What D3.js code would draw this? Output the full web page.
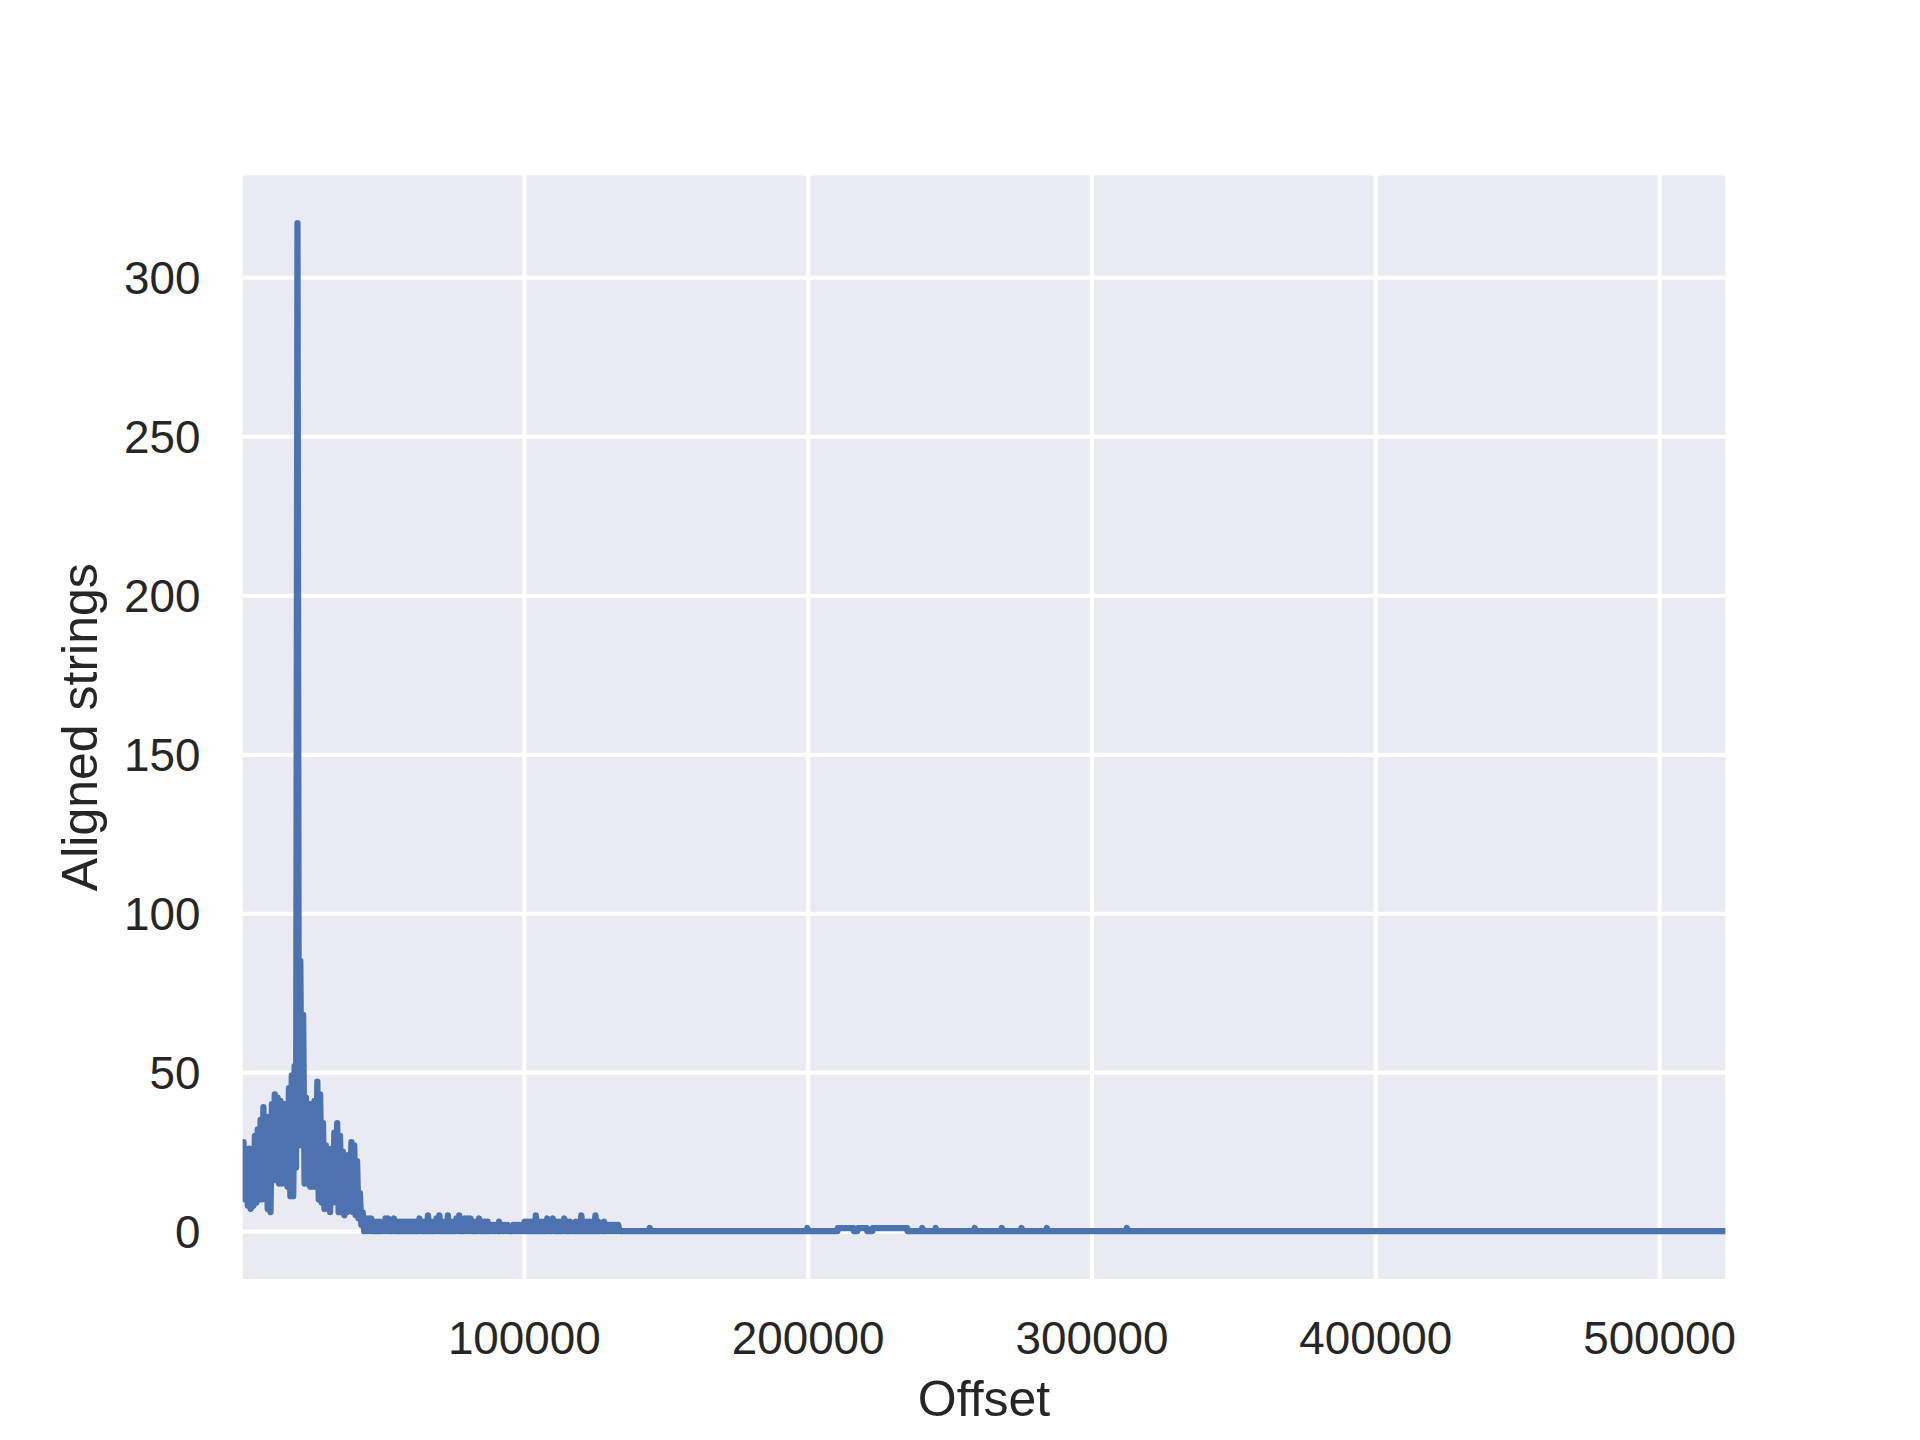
<!DOCTYPE html>
<html>
<head>
<meta charset="utf-8">
<script src="https://cdn.jsdelivr.net/npm/d3@7"></script>
<style>
  body { margin: 0; background: #fff; }
  svg { display: block; }
</style>
</head>
<body>
<div id="chart"></div>
<script>
// data

// dense head: every bin of 1000 offsets swings between a max and a min
const binSize = 1000;
const headMax = [28, 28, 25, 26, 25, 30, 32, 35, 39, 36,
                 33, 40, 43, 42, 41, 40, 40, 45, 49, 52,
                 317, 85, 68, 42, 40, 40, 41, 47, 43, 34,
                 27, 25, 26, 31, 34, 30, 25, 23, 24, 28,
                 27, 22, 12, 6, 4];
const headMin = [12, 10, 8, 7, 8, 9, 10, 10, 11, 7,
                 6, 16, 16, 15, 15, 15, 14, 11, 11, 20,
                 27, 27, 15, 15, 14, 14, 14, 10, 9, 7,
                 7, 6, 9, 10, 6, 6, 5, 6, 7, 6,
                 5, 4, 2, 0, 0];

// low tail: bins from offset 45000, swinging between 0 and these values
const tailStart = 45000;
const tailMax = [4, 4, 3, 3, 3, 2, 4, 4, 3, 4,
                 3, 3, 3, 3, 3, 3, 3, 3, 4, 3,
                 3, 5, 3, 3, 4, 5, 3, 3, 5, 3,
                 3, 4, 5, 3, 4, 4, 4, 3, 3, 4,
                 3, 3, 3, 2, 2, 2, 3, 2, 2, 2,
                 1, 2, 2, 2, 2, 3, 3, 3, 3, 5,
                 3, 3, 3, 4, 3, 4, 3, 3, 3, 4,
                 3, 3, 2, 3, 3, 5, 3, 3, 3, 3,
                 5, 3, 2, 3, 2, 2, 2, 2, 2];

// isolated single hits (value 1) and short runs of 1 further right
const sparseSpikes = [144400, 199900, 240400, 245150, 258900, 268430, 275370, 284300, 312500];
const sparseRuns = [[210500, 216300], [217500, 221000], [222800, 235200]];
const lastOffset = 524288;

const xTicks = [100000, 200000, 300000, 400000, 500000];
const yTicks = [0, 50, 100, 150, 200, 250, 300];

// layout (matplotlib-ish axes box in a 1920x1440 figure)
let width = 1920,
    height = 1440,
    margin = {left: 240, right: 192, top: 172.8, bottom: 158.4},
    innerW = width - margin.left - margin.right,
    innerH = height - margin.top - margin.bottom,
    tickFont = 45.8,
    labelFont = 50,
    textColor = "#262626",
    font = "'Liberation Sans', Arial, sans-serif";

// build the polyline
let points = [];
headMax.forEach(function(hi, i) {
    points.push([i * binSize + binSize * 0.25, hi]);
    points.push([i * binSize + binSize * 0.75, headMin[i]]);
});
tailMax.forEach(function(hi, i) {
    let start = tailStart + i * binSize;
    points.push([start + binSize * 0.25, hi]);
    points.push([start + binSize * 0.75, 0]);
});

let sparse = [];
sparseSpikes.forEach(o => sparse.push([[o - 150, 0], [o, 1], [o + 150, 0]]));
sparseRuns.forEach(r => sparse.push([[r[0], 0], [r[0] + 150, 1], [r[1] - 150, 1], [r[1], 0]]));
sparse.sort((a, b) => a[0][0] - b[0][0]);
sparse.forEach(s => s.forEach(p => points.push(p)));
points.push([lastOffset, 0]);

// scales
let yMax = d3.max(headMax),
    yPad = yMax * 0.05;

let x = d3.scaleLinear()
    .domain([1, lastOffset])
    .range([0, innerW]);

let y = d3.scaleLinear()
    .domain([0 - yPad, yMax + yPad])
    .range([innerH, 0]);

let svg = d3.select("#chart")
    .append("svg")
    .attr("width", width)
    .attr("height", height);

let g = svg.append("g")
    .attr("transform", `translate(${margin.left},${margin.top})`);

// background
g.append("rect")
    .attr("width", innerW)
    .attr("height", innerH)
    .attr("fill", "#eaeaf2");

// grid
g.append("g")
    .attr("class", "grid")
    .call(d3.axisLeft(y).tickValues(yTicks).tickSize(-innerW).tickFormat(""))
    .call(s => s.select(".domain").remove())
    .selectAll("line")
    .attr("stroke", "#fff")
    .attr("stroke-width", 4.17);

g.append("g")
    .attr("class", "grid")
    .attr("transform", `translate(0,${innerH})`)
    .call(d3.axisBottom(x).tickValues(xTicks).tickSize(-innerH).tickFormat(""))
    .call(s => s.select(".domain").remove())
    .selectAll("line")
    .attr("stroke", "#fff")
    .attr("stroke-width", 4.17);

// the line, clipped to the axes box
svg.append("defs")
    .append("clipPath")
    .attr("id", "plot_clip")
    .append("rect")
    .attr("width", innerW)
    .attr("height", innerH);

let line = d3.line()
    .x(d => x(d[0]))
    .y(d => y(d[1]));

g.append("path")
    .datum(points)
    .attr("clip-path", "url(#plot_clip)")
    .attr("fill", "none")
    .attr("stroke", "#4c72b0")
    .attr("stroke-width", 6.25)
    .attr("stroke-linejoin", "round")
    .attr("d", line);

// white spines drawn over the line, like seaborn darkgrid
g.append("rect")
    .attr("width", innerW)
    .attr("height", innerH)
    .attr("fill", "none")
    .attr("stroke", "#fff")
    .attr("stroke-width", 5.2);

// tick labels
let xAxis = g.append("g")
    .attr("transform", `translate(0,${innerH})`)
    .call(d3.axisBottom(x).tickValues(xTicks).tickSize(0).tickPadding(39.6).tickFormat(d3.format("d")));
xAxis.select(".domain").remove();
xAxis.selectAll("text")
    .attr("font-size", tickFont)
    .attr("font-family", font)
    .attr("fill", textColor);

let yAxis = g.append("g")
    .call(d3.axisLeft(y).tickValues(yTicks).tickSize(0).tickPadding(39.6).tickFormat(d3.format("d")));
yAxis.select(".domain").remove();
yAxis.selectAll("text")
    .attr("dy", "0.36em")
    .attr("font-size", tickFont)
    .attr("font-family", font)
    .attr("fill", textColor);

// axis labels
svg.append("text")
    .attr("x", margin.left + innerW / 2)
    .attr("y", 1416)
    .attr("text-anchor", "middle")
    .attr("font-size", labelFont)
    .attr("font-family", font)
    .attr("fill", textColor)
    .text("Offset");

svg.append("text")
    .attr("transform", `translate(97,${margin.top + innerH / 2}) rotate(-90)`)
    .attr("text-anchor", "middle")
    .attr("font-size", labelFont)
    .attr("font-family", font)
    .attr("fill", textColor)
    .text("Aligned strings");
</script>
</body>
</html>
